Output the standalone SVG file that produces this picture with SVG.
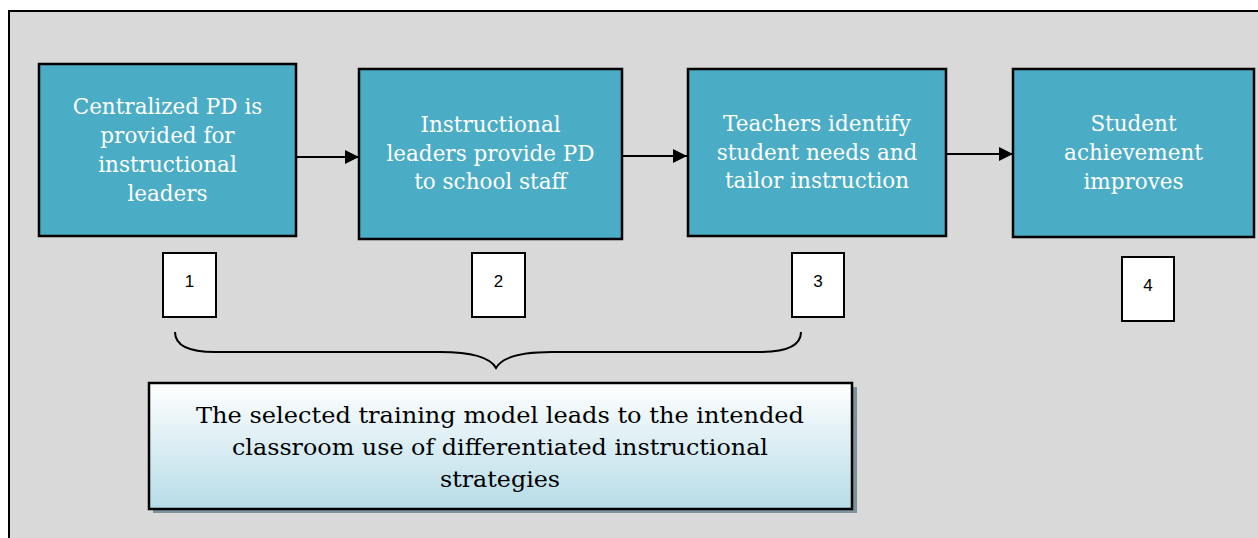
<svg xmlns="http://www.w3.org/2000/svg" width="1258" height="538" viewBox="0 0 1258 538">
<defs>
<style>
.step{fill:#4bacc6;stroke:#000;stroke-width:2.5}
.st{font-family:"DejaVu Serif","Liberation Serif",serif;font-size:21.5px;fill:#fff;text-anchor:middle}
.num{fill:#fff;stroke:#000;stroke-width:2}
.nt{font-family:"Liberation Sans",Arial,sans-serif;font-size:17px;fill:#000;text-anchor:middle}
.bt{font-family:"DejaVu Serif","Liberation Serif",serif;font-size:22.5px;fill:#000;text-anchor:middle}
.conn{stroke:#000;stroke-width:2;fill:none}
</style>
<linearGradient id="g" x1="0" y1="0" x2="0" y2="1">
<stop offset="0" stop-color="#ffffff"/>
<stop offset="1" stop-color="#b6dce7"/>
</linearGradient>
<marker id="ah" viewBox="0 0 10 10" refX="10" refY="5" markerWidth="14" markerHeight="14" markerUnits="userSpaceOnUse" orient="auto">
<path d="M0,0 L10,5 L0,10 Z" fill="#000"/>
</marker>
</defs>
<rect x="0" y="0" width="1258" height="538" fill="#fff"/>
<rect id="frame" x="9" y="11" width="1260" height="540" fill="#d9d9d9" stroke="#000" stroke-width="2"/>
<g id="connectors">
<line class="conn" x1="296" y1="157" x2="359" y2="157" marker-end="url(#ah)"/>
<line class="conn" x1="622" y1="156" x2="687" y2="156" marker-end="url(#ah)"/>
<line class="conn" x1="946" y1="154" x2="1013" y2="154" marker-end="url(#ah)"/>
<path class="conn" stroke-width="1.8" d="M175,332 C175,346 190,352 215,352 L440,352 C470,352 490,357 496,368 C502,357 522,352 552,352 L760,352 C785,352 801,346 801,332"/>
</g>
<g id="n1">
<rect class="step" x="39" y="64" width="257" height="172"/>
<text class="st" x="167.5" y="114">Centralized PD is</text>
<text class="st" x="167.5" y="143">provided for</text>
<text class="st" x="167.5" y="172">instructional</text>
<text class="st" x="167.5" y="201">leaders</text>
</g>
<g id="n2">
<rect class="step" x="359" y="69" width="263" height="170"/>
<text class="st" x="490.5" y="132">Instructional</text>
<text class="st" x="490.5" y="161">leaders provide PD</text>
<text class="st" x="490.5" y="189">to school staff</text>
</g>
<g id="n3">
<rect class="step" x="688" y="69" width="258" height="167"/>
<text class="st" x="817" y="131">Teachers identify</text>
<text class="st" x="817" y="160">student needs and</text>
<text class="st" x="817" y="188">tailor instruction</text>
</g>
<g id="n4">
<rect class="step" x="1013" y="69" width="241" height="168"/>
<text class="st" x="1133.5" y="131">Student</text>
<text class="st" x="1133.5" y="160">achievement</text>
<text class="st" x="1133.5" y="189">improves</text>
</g>
<g id="l1"><rect class="num" x="163" y="253" width="53" height="64"/><text class="nt" x="189.5" y="287">1</text></g>
<g id="l2"><rect class="num" x="472" y="253" width="53" height="64"/><text class="nt" x="498.5" y="287">2</text></g>
<g id="l3"><rect class="num" x="792" y="253" width="52" height="64"/><text class="nt" x="818" y="287">3</text></g>
<g id="l4"><rect class="num" x="1122" y="257" width="52" height="64"/><text class="nt" x="1148" y="291">4</text></g>
<g id="summary">
<rect x="153" y="387" width="704" height="126" fill="#7e929e"/>
<rect x="149" y="383" width="703" height="126" fill="url(#g)" stroke="#000" stroke-width="2.5"/>
<text class="bt" x="500" y="423" textLength="608" lengthAdjust="spacingAndGlyphs">The selected training model leads to the intended</text>
<text class="bt" x="500" y="455" textLength="536" lengthAdjust="spacingAndGlyphs">classroom use of differentiated instructional</text>
<text class="bt" x="500" y="487" textLength="120" lengthAdjust="spacingAndGlyphs">strategies</text>
</g>
</svg>
